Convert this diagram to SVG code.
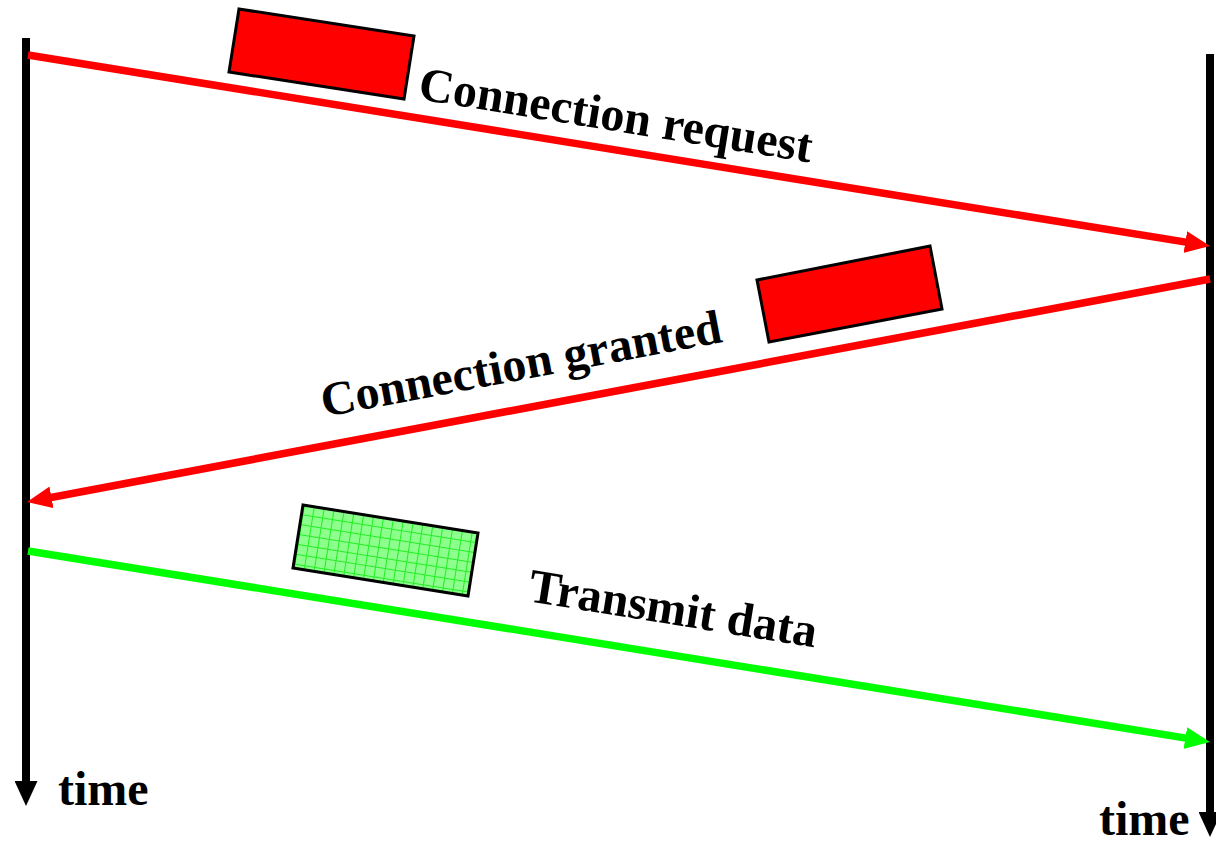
<svg xmlns="http://www.w3.org/2000/svg" width="1216" height="842" viewBox="0 0 1216 842">
<style>
.lbl{font-family:"Liberation Serif","Times New Roman",serif;font-weight:bold;font-size:48px;fill:#000}
.box{stroke:#000;stroke-width:3;stroke-linejoin:miter}
.msg{fill:none;stroke-width:7.5;stroke-linecap:butt}
.axis{fill:none;stroke:#000;stroke-width:8}
</style>
<defs>
<marker id="ahRed" markerUnits="userSpaceOnUse" viewBox="0 0 25 22" refX="10" refY="11" markerWidth="25" markerHeight="22" orient="auto"><path d="M0,0 L25,11 L0,22 Z" fill="#ff0000"/></marker>
<marker id="ahGreen" markerUnits="userSpaceOnUse" viewBox="0 0 25 22" refX="10" refY="11" markerWidth="25" markerHeight="22" orient="auto"><path d="M0,0 L25,11 L0,22 Z" fill="#00ff00"/></marker>
<marker id="ahBlack" markerUnits="userSpaceOnUse" viewBox="0 0 25 23" refX="10" refY="11.5" markerWidth="25" markerHeight="23" orient="auto"><path d="M0,0 L25,11.5 L0,23 Z" fill="#000"/></marker>
<pattern id="grid" patternUnits="userSpaceOnUse" width="10" height="10" patternTransform="rotate(9.1)">
<rect width="10" height="10" fill="#8cff8c"/>
<path d="M0,0.5 H10 M0.5,0 V10" stroke="#22ee22" stroke-width="1"/>
</pattern>
</defs>
<g id="timelines">
<line class="axis" x1="26" y1="38" x2="26" y2="791" marker-end="url(#ahBlack)"/>
<line class="axis" x1="1210" y1="54" x2="1210" y2="822" marker-end="url(#ahBlack)"/>
</g>
<g id="connectors">
<line class="msg" stroke="#ff0000" x1="28" y1="55" x2="1195.2" y2="243.6" marker-end="url(#ahRed)"/>
<line class="msg" stroke="#ff0000" x1="1210" y1="279" x2="41.7" y2="499.2" marker-end="url(#ahRed)"/>
<line class="msg" stroke="#00ff00" x1="28" y1="551" x2="1195.2" y2="739.6" marker-end="url(#ahGreen)"/>
</g>
<g id="packet-request">
<polygon class="box" fill="#ff0000" points="239,9 414,36 404,99 229,72"/>
</g>
<g id="packet-granted">
<polygon class="box" fill="#ff0000" points="757,280 930,246 942,309 769,342"/>
</g>
<g id="packet-data">
<polygon class="box" fill="url(#grid)" points="303,505 478,533 468,596 293,568"/>
</g>
<g id="label-request"><text class="lbl" transform="translate(417,99) rotate(9.18)">Connection request</text></g>
<g id="label-granted"><text class="lbl" transform="translate(324,417) rotate(-10.67)">Connection granted</text></g>
<g id="label-data"><text class="lbl" transform="translate(527,601) rotate(9.17)">Transmit data</text></g>
<g id="label-time-left"><text class="lbl" x="58" y="805">time</text></g>
<g id="label-time-right"><text class="lbl" x="1099" y="835">time</text></g>
</svg>
